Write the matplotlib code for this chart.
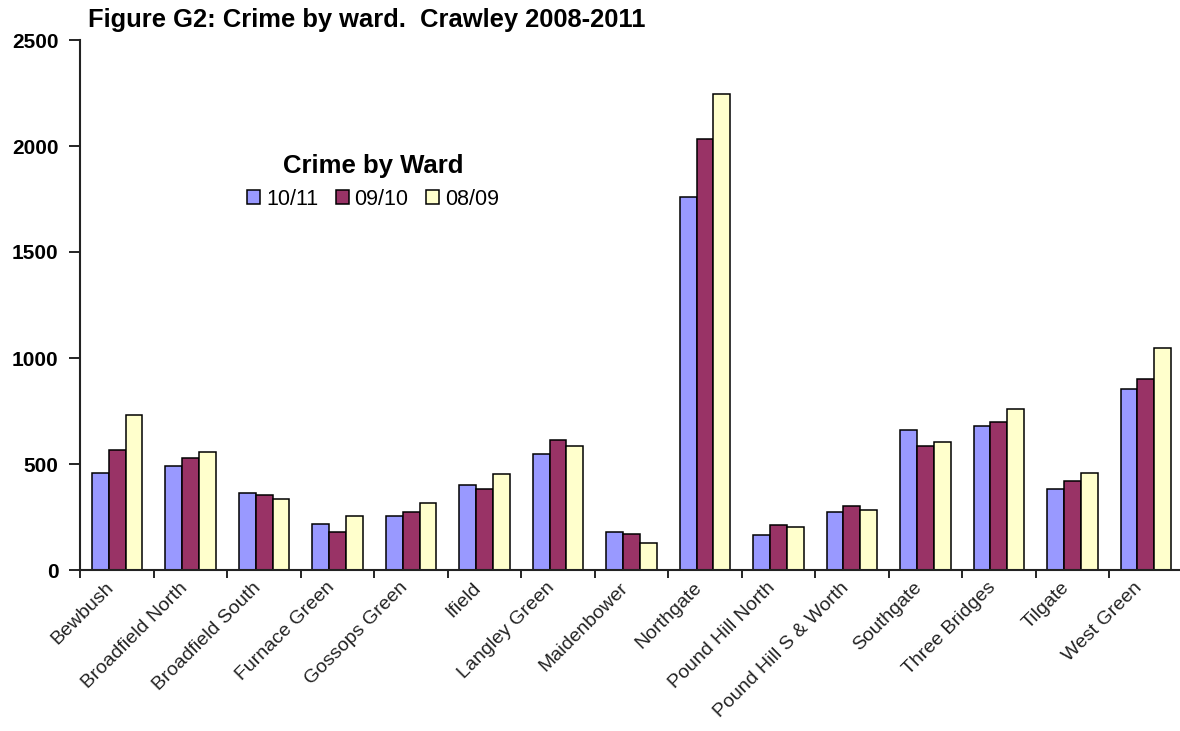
import numpy as np
import matplotlib.pyplot as plt
import matplotlib.transforms as mtransforms

wards = ['Bewbush', 'Broadfield North', 'Broadfield South', 'Furnace Green',
         'Gossops Green', 'Ifield', 'Langley Green', 'Maidenbower', 'Northgate',
         'Pound Hill North', 'Pound Hill S & Worth', 'Southgate', 'Three Bridges',
         'Tilgate', 'West Green']
crime_1011 = [457, 492, 364, 219, 254, 401, 547, 180, 1760, 165, 273, 662, 679, 384, 852]
crime_0910 = [566, 529, 355, 181, 273, 383, 611, 172, 2035, 210, 301, 587, 699, 421, 900]
crime_0809 = [732, 557, 337, 254, 317, 455, 583, 127, 2245, 201, 283, 605, 760, 457, 1046]
series_names = ['10/11', '09/10', '08/09']
colores = ['#9999FF', '#993366', '#FFFFCC']

plt.rcParams['font.family'] = ['Liberation Sans', 'DejaVu Sans']

fig = plt.figure(figsize=(11.8, 7.31), dpi=100)
ax = fig.add_axes([80.5 / 1180, 161 / 731, 1102 / 1180, 530 / 731])

x = np.arange(len(wards))
ancho = 0.229
for i, (vals, nombre) in enumerate(zip([crime_1011, crime_0910, crime_0809], series_names)):
    ax.bar(x + (i - 1) * ancho, vals, width=ancho, color=colores[i],
           edgecolor='black', linewidth=1.1, label=nombre)

ax.set_xlim(-0.5, len(wards) - 0.5)
ax.set_ylim(0, 2500)
ax.set_yticks(np.arange(0, 2501, 500))
ax.set_yticklabels([str(v) for v in range(0, 2501, 500)], fontweight='bold', fontsize=15)

# marcas entre categorias, etiquetas en el centro
ax.set_xticks(np.arange(len(wards) + 1) - 0.5)
ax.set_xticklabels([])
ax.set_xticks(x, minor=True)
ax.set_xticklabels(wards, minor=True, rotation=45, ha='right', rotation_mode='anchor',
                   fontsize=14, color='#222222')
ax.tick_params(axis='x', which='minor', length=0, pad=8)
ax.tick_params(axis='x', which='major', length=6, width=1.2, direction='out')
ax.tick_params(axis='y', length=8, width=1.2, direction='out', pad=8)

# corro las etiquetas un poco a la izquierda
desplazo = mtransforms.ScaledTranslation(-12 / 100, 2 / 100, fig.dpi_scale_trans)
for etiqueta in ax.get_xticklabels(minor=True):
    etiqueta.set_transform(etiqueta.get_transform() + desplazo)

for s in ['top', 'right']:
    ax.spines[s].set_visible(False)
for s in ['left', 'bottom']:
    ax.spines[s].set_linewidth(1.5)
    ax.spines[s].set_color('#222222')

leg = fig.legend(loc='center', bbox_to_anchor=(373 / 1180, 1 - 182 / 731), ncol=3,
                 frameon=False, title='Crime by Ward', fontsize=15.5,
                 handlelength=0.6, handleheight=0.6, handletextpad=0.28,
                 columnspacing=0.8)
leg.get_title().set_fontweight('bold')
leg.get_title().set_fontsize(18.5)

fig.text(88 / 1180, 1 - 20 / 731, 'Figure G2: Crime by ward.  Crawley 2008-2011',
         fontsize=18.4, fontweight='bold', va='center', ha='left')

fig.savefig('out.png', dpi=100)
